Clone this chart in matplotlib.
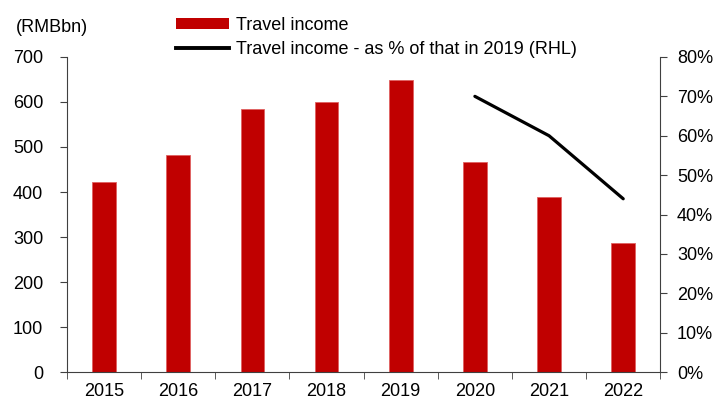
import numpy as np
import matplotlib.pyplot as plt
from matplotlib.patches import Patch
from matplotlib.lines import Line2D

plt.rcParams['font.family'] = ['Liberation Sans', 'DejaVu Sans']
plt.rcParams['font.size'] = 13

# data
years = ['2015', '2016', '2017', '2018', '2019', '2020', '2021', '2022']
income = [422, 483, 584, 599, 649, 466, 388, 287]
pct_years = ['2020', '2021', '2022']
pct_of_2019 = [70, 60, 44]

bar_color = '#C00000'
spine_color = '#404040'

fig = plt.figure(figsize=(7.28, 4.01), dpi=100)
ax = fig.add_axes([0.092, 0.072, 0.815, 0.786])
ax2 = ax.twinx()

x = np.arange(len(years))
ax.bar(x, income, width=0.32, color=bar_color, edgecolor='#E06060', linewidth=0.6, zorder=2)

px = [years.index(y) for y in pct_years]
ax2.plot(px, pct_of_2019, color='black', lw=2.3, solid_capstyle='round')

ax.set_xlim(-0.5, len(years) - 0.5)
ax.set_ylim(0, 700)
ax.set_yticks(np.arange(0, 701, 100))
ax2.set_ylim(0, 80)
ax2.set_yticks(np.arange(0, 81, 10))
ax2.set_yticklabels([f'{v}%' for v in range(0, 81, 10)])

ax.set_xticks(x)
ax.set_xticklabels(years)
ax.set_xticks(np.arange(-0.5, len(years)), minor=True)
ax.tick_params(axis='x', which='major', length=0, pad=7.5)
ax.tick_params(axis='x', which='minor', length=5, color=spine_color)
ax.tick_params(axis='y', length=5, color=spine_color, pad=12)
ax2.tick_params(axis='y', length=5, color=spine_color, pad=7)

for a in (ax, ax2):
    a.spines['top'].set_visible(False)
    for s in ('left', 'right', 'bottom'):
        a.spines[s].set_color(spine_color)
ax.spines['right'].set_visible(False)
ax2.spines['left'].set_visible(False)
ax2.spines['bottom'].set_visible(False)

fig.text(0.022, 0.932, '(RMBbn)', ha='left', va='center')

handles = [Patch(facecolor=bar_color, edgecolor='none'),
           Line2D([0], [0], color='black', lw=2.8)]
labels = ['Travel income', 'Travel income - as % of that in 2019 (RHL)']
fig.legend(handles, labels, loc='upper left', bbox_to_anchor=(0.242, 0.958),
           frameon=False, handlelength=2.9, handleheight=0.6, handletextpad=0.39,
           labelspacing=0.39, borderaxespad=0, borderpad=0)

fig.savefig('out.png', dpi=100)
